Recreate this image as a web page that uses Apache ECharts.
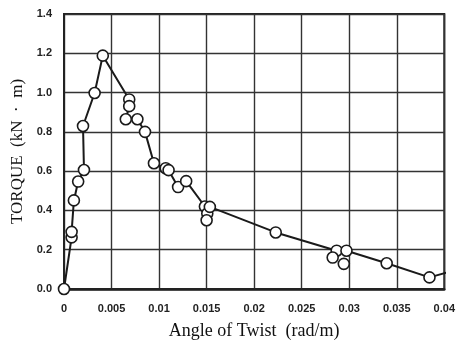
<!DOCTYPE html>
<html>
<head>
<meta charset="utf-8">
<script src="https://cdn.jsdelivr.net/npm/echarts@6/dist/echarts.min.js"></script>
<style>
html,body{margin:0;padding:0;background:#fff;}
#c{width:458px;height:345px;}
</style>
</head>
<body>
<div id="c"></div>
<script>
// connected path: [angle of twist (rad/m), torque (kN·m)]
const pathX = [0, 0.0008, 0.0008, 0.00104, 0.00149, 0.0021, 0.0020, 0.00322, 0.00408, 0.00686, 0.00686, 0.00650, 0.00772, 0.00852, 0.00946, 0.0107, 0.0110, 0.0120, 0.01285, 0.01482, 0.01507, 0.0150, 0.01534, 0.02227, 0.02868, 0.02971, 0.03394, 0.03844, 0.0404];
const pathY = [0, 0.263, 0.291, 0.451, 0.547, 0.606, 0.830, 0.998, 1.188, 0.965, 0.931, 0.864, 0.864, 0.800, 0.640, 0.615, 0.605, 0.519, 0.549, 0.420, 0.384, 0.350, 0.418, 0.288, 0.195, 0.195, 0.131, 0.059, 0.086];
// path vertex without a marker (line runs past the frame)
const noMarkerIndex = [28];
// loose points hanging off the path
const looseX = [0.02826, 0.02943];
const looseY = [0.160, 0.128];
const xTickLabels = ['0','0.005','0.01','0.015','0.02','0.025','0.03','0.035','0.04'];
const yTickLabels = ['0.0','0.2','0.4','0.6','0.8','1.0','1.2','1.4'];

const pathData = pathX.map((x, i) => {
  const d = { value: [x, pathY[i]] };
  if (noMarkerIndex.includes(i)) d.symbol = 'none';
  return d;
});
const looseData = looseX.map((x, i) => [x, looseY[i]]);

const chart = echarts.init(document.getElementById('c'), null, { renderer: 'canvas' });
const tickFont = { fontFamily: 'Liberation Sans', fontWeight: 'bold', fontSize: 11, color: '#222' };
const gridLine = { show: true, lineStyle: { color: '#333', width: 1.4 } };
chart.setOption({
  animation: false,
  backgroundColor: '#fff',
  grid: { left: 64, right: 9, top: 14, bottom: 54, show: true, borderColor: '#222', borderWidth: 2, backgroundColor: 'transparent' },
  xAxis: {
    type: 'value', min: 0, max: 0.04, interval: 0.005,
    axisLine: { show: true, onZero: false, lineStyle: { color: '#222', width: 2.5 } },
    axisTick: { show: false },
    splitLine: gridLine,
    axisLabel: Object.assign({ margin: 14, showMaxLabel: true, formatter: v => xTickLabels[Math.round(v / 0.005)] }, tickFont),
    name: 'Angle of Twist  (rad/m)', nameLocation: 'middle', nameGap: 33,
    nameTextStyle: { fontFamily: 'Liberation Serif', fontSize: 18, color: '#111' }
  },
  yAxis: {
    type: 'value', min: 0, max: 1.4, interval: 0.2,
    axisLine: { show: true, lineStyle: { color: '#222', width: 2 } },
    axisTick: { show: false },
    splitLine: gridLine,
    axisLabel: Object.assign({ margin: 12, formatter: v => yTickLabels[Math.round(v / 0.2)] }, tickFont),
    name: 'TORQUE  (kN  ·  m)', nameLocation: 'middle', nameGap: 38,
    nameTextStyle: { fontFamily: 'Liberation Serif', fontSize: 17, color: '#111' }
  },
  series: [
    {
      type: 'line', data: pathData, clip: false,
      symbol: 'circle', symbolSize: 11, showAllSymbol: true,
      lineStyle: { color: '#1a1a1a', width: 2 },
      itemStyle: { color: '#fff', borderColor: '#1a1a1a', borderWidth: 1.6 },
      z: 3
    },
    {
      type: 'scatter', data: looseData,
      symbol: 'circle', symbolSize: 11,
      itemStyle: { color: '#fff', borderColor: '#1a1a1a', borderWidth: 1.6, opacity: 1 },
      z: 4
    }
  ]
});
</script>
</body>
</html>
